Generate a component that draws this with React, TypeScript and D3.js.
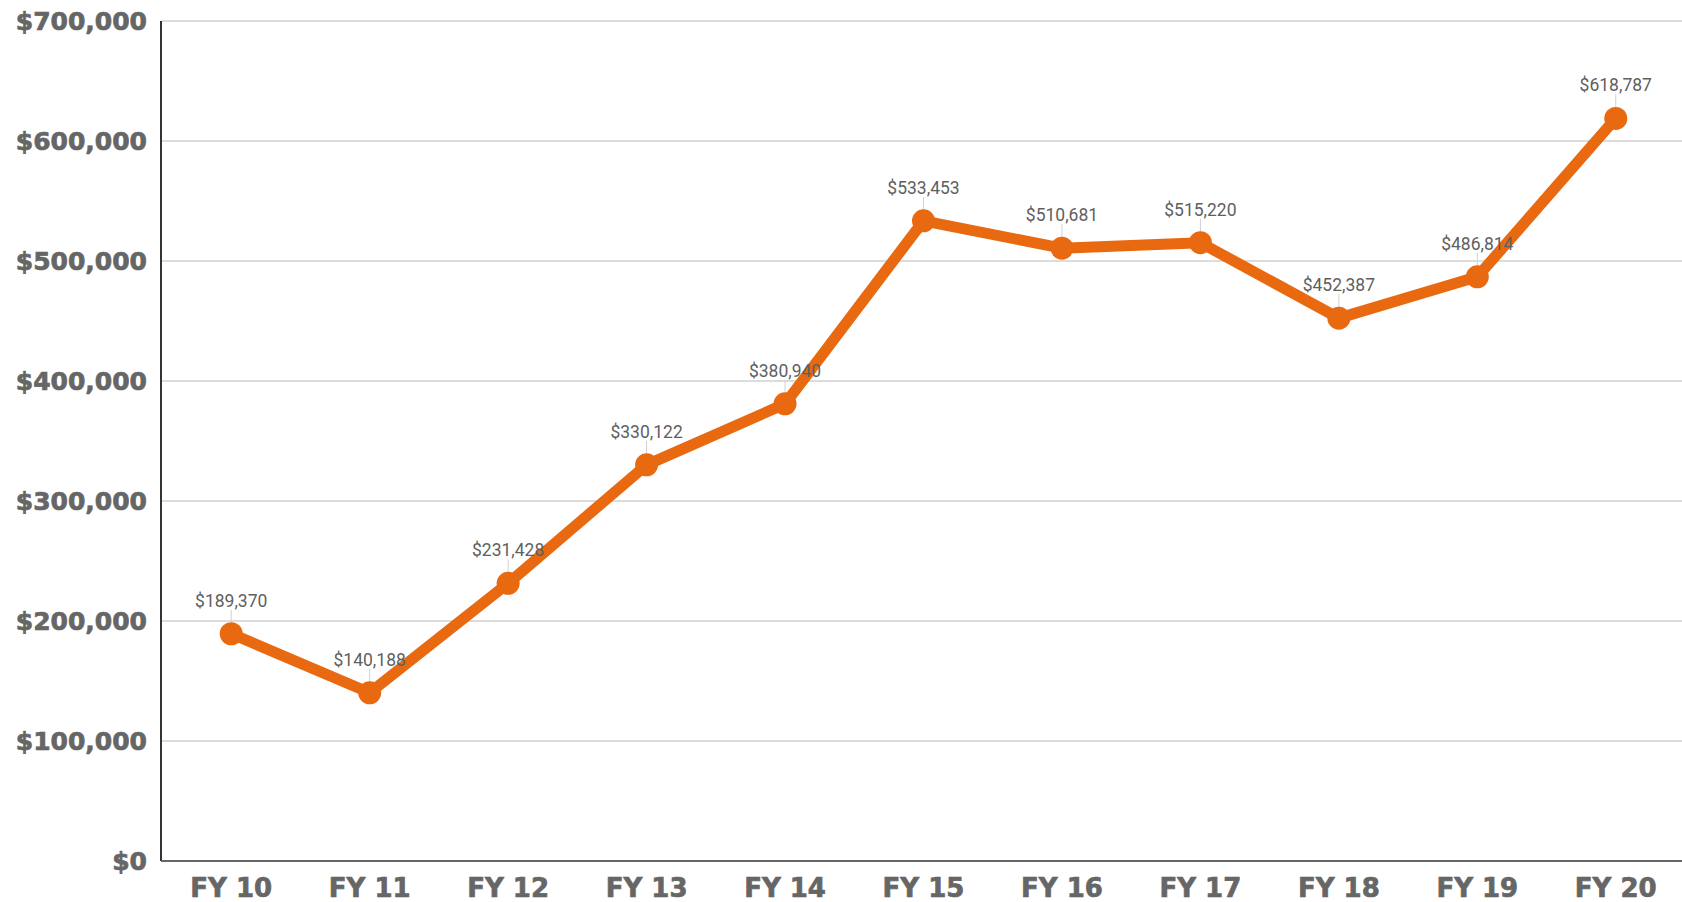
import React, { useMemo } from "react";
import * as d3 from "d3";

const years = ["FY 10", "FY 11", "FY 12", "FY 13", "FY 14", "FY 15", "FY 16", "FY 17", "FY 18", "FY 19", "FY 20"];
const amounts = [189370, 140188, 231428, 330122, 380940, 533453, 510681, 515220, 452387, 486814, 618787];
const yTicks = [0, 100000, 200000, 300000, 400000, 500000, 600000, 700000];

const ORANGE = "#E8690F";

export default function App() {
  const width = 1682;
  const height = 902;
  const margin = { top: 21, right: 0, bottom: 41, left: 161 };

  // bands run a little past the right edge, as in the original
  const x = useMemo(
    () => d3.scaleBand<string>().domain(years).range([162, 1685]).padding(0),
    []
  );
  const y = useMemo(
    () => d3.scaleLinear().domain([0, 700000]).range([height - margin.bottom, margin.top]),
    []
  );

  const cx = (i: number) => (x(years[i]) ?? 0) + x.bandwidth() / 2;

  const line = d3
    .line<number>()
    .x((_, i) => cx(i))
    .y((d) => y(d));

  const money = d3.format("$,.0f");

  return (
    <svg
      width={width}
      height={height}
      style={{ position: "absolute", left: 0, top: 0, background: "#fff" }}
    >
      {/* gridlines */}
      {yTicks.slice(1).map((t) => (
        <line key={t} x1={margin.left} x2={width} y1={y(t)} y2={y(t)} stroke="#dcdcdc" strokeWidth={2} />
      ))}

      {/* y tick labels */}
      {yTicks.map((t) => (
        <text
          key={"l" + t}
          x={147}
          y={y(t)}
          dy="0.36em"
          textAnchor="end"
          fontFamily="DejaVu Sans"
          fontWeight="bold"
          fontSize={25}
          fill="#666"
          stroke="#666"
          strokeWidth={0.7}
        >
          {money(t)}
        </text>
      ))}

      {/* axes */}
      <line x1={margin.left} x2={margin.left} y1={y(700000)} y2={y(0)} stroke="#333" strokeWidth={2} />
      <line x1={margin.left} x2={width} y1={y(0)} y2={y(0)} stroke="#666" strokeWidth={2} />

      {/* x labels */}
      {years.map((c, i) => (
        <text
          key={c}
          x={cx(i)}
          y={897}
          textAnchor="middle"
          fontFamily="DejaVu Sans"
          fontWeight="bold"
          fontSize={26}
          fill="#666"
          stroke="#666"
          strokeWidth={0.7}
        >
          {c}
        </text>
      ))}

      {/* leader ticks */}
      {amounts.map((v, i) => (
        <line key={"t" + i} x1={cx(i)} x2={cx(i)} y1={y(v) - 24} y2={y(v) - 11} stroke="#d0d0d0" strokeWidth={1} />
      ))}

      {/* series */}
      <path d={line(amounts) ?? ""} fill="none" stroke={ORANGE} strokeWidth={11} strokeLinejoin="round" />
      {amounts.map((v, i) => (
        <circle key={"c" + i} cx={cx(i)} cy={y(v)} r={11.5} fill={ORANGE} />
      ))}

      {/* data labels */}
      {amounts.map((v, i) => (
        <text
          key={"d" + i}
          x={cx(i)}
          y={y(v) - 27}
          textAnchor="middle"
          fontFamily="Roboto"
          fontSize={17.5}
          fill="#5f5f5f"
        >
          {money(v)}
        </text>
      ))}
    </svg>
  );
}
